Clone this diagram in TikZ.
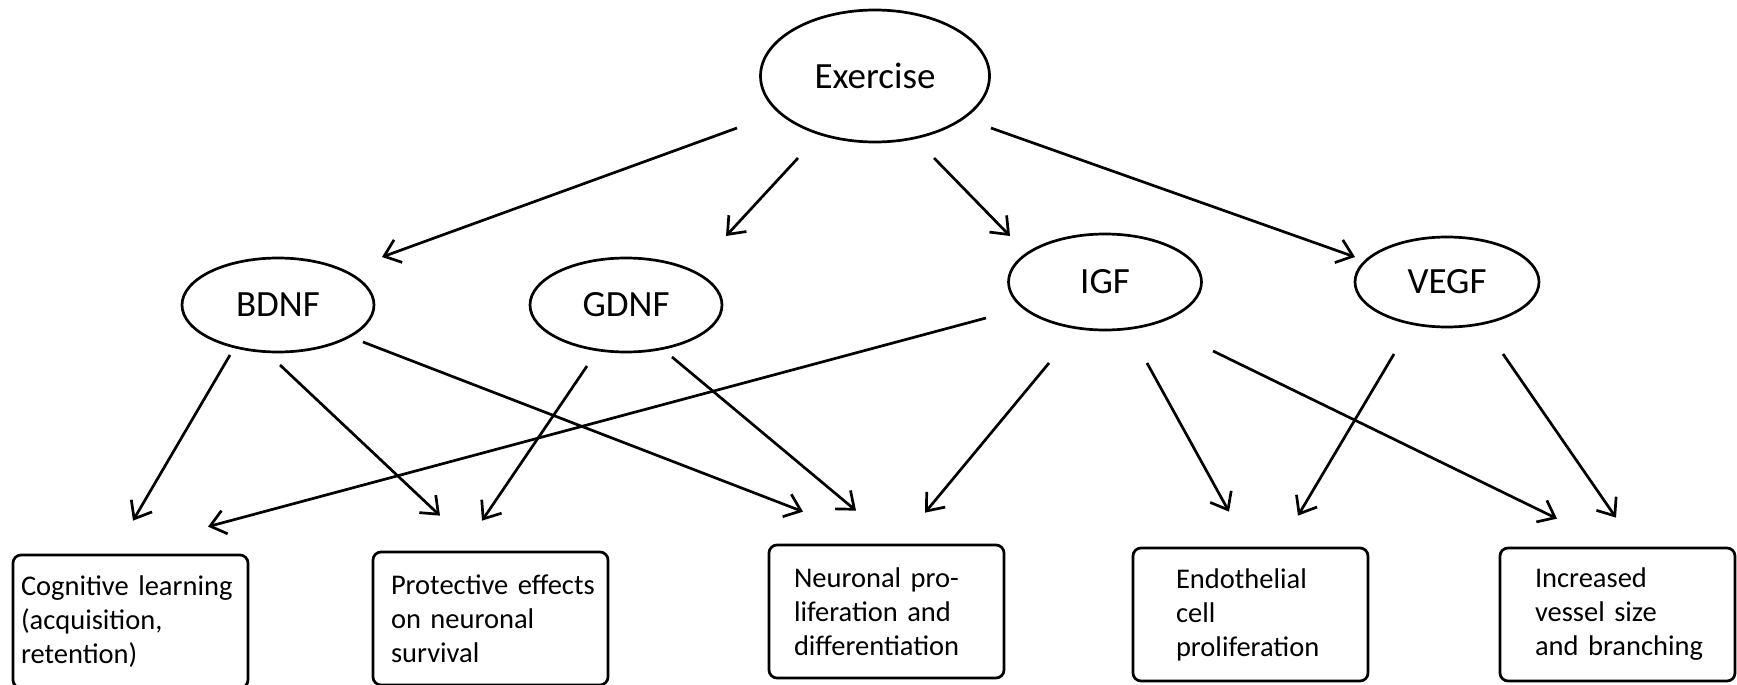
\documentclass[tikz,border=0pt]{standalone}
\usepackage{fontspec}
\setmainfont{Carlito}
\usetikzlibrary{arrows.meta, shapes.geometric}

\tikzset{
  factor/.style={ellipse, draw, line width=2.7pt, inner sep=0pt, font=\fontsize{37}{44}\selectfont},
  effect/.style={rectangle, rounded corners=8pt, draw, line width=2.7pt, inner sep=0pt,
                 minimum width=235pt, minimum height=133pt, text width=235pt, align=left,
                 font=\fontsize{28.5}{34}\selectfont,
                 execute at begin node={\leftskip=#1\hyphenpenalty=10000}},
  arr/.style={-{Straight Barb[length=15pt,width=24pt]}, line width=2.7pt}
}

\begin{document}
\begin{tikzpicture}[x=1pt,y=-1pt]
\useasboundingbox (0,0) rectangle (1737,685);
%---------------------------------------------------
\node[factor, minimum width=229pt, minimum height=132pt] (ex) at (875,76) {Exercise};
\node[factor, minimum width=192pt, minimum height=94pt] (bdnf) at (278,305) {BDNF};
\node[factor, minimum width=192pt, minimum height=94pt] (gdnf) at (626,305) {GDNF};
\node[factor, minimum width=193pt, minimum height=96pt] (igf) at (1105,282) {IGF};
\node[factor, minimum width=184pt, minimum height=90pt] (vegf) at (1447,282) {VEGF};
%---------------------------------------------------
\node[effect=8pt] (cog) at (130.5,621.5) {Cognitive learning\\(acquisition,\\retention)};
\node[effect=18pt] (prot) at (490.5,618.5) {Protective effects\\on neuronal\\survival};
\node[effect=25pt] (neur) at (886.5,611.5) {Neuronal pro-\\liferation and\\differentiation};
\node[effect=43pt] (endo) at (1250.5,614.5) {Endothelial\\cell\\proliferation};
\node[effect=35pt] (vess) at (1617.5,614.5) {Increased\\vessel size\\and branching};
%---------------------------------------------------
\draw[arr] ([shift={(-138,52)}]ex.center) -- ([shift={(104,-48)}]bdnf.center);
\draw[arr] ([shift={(-77,82)}]ex.center) -- ([shift={(100,-69)}]gdnf.center);
\draw[arr] ([shift={(59,82)}]ex.center) -- ([shift={(-95,-46)}]igf.center);
\draw[arr] ([shift={(116,52)}]ex.center) -- ([shift={(-92,-25)}]vegf.center);
%---------------------------------------------------
\draw[arr] ([shift={(-48,50)}]bdnf.center) -- ([shift={(2.5,-33)}]cog.north);
\draw[arr] ([shift={(2,60)}]bdnf.center) -- ([shift={(-50.5,-35)}]prot.north);
\draw[arr] ([shift={(85,37)}]bdnf.center) -- ([shift={(-83.5,-32)}]neur.north);
\draw[arr] ([shift={(-39,61)}]gdnf.center) -- ([shift={(-8.5,-30)}]prot.north);
\draw[arr] ([shift={(46,52)}]gdnf.center) -- ([shift={(-30.5,-33)}]neur.north);
%---------------------------------------------------
\draw[arr] ([shift={(-119,36)}]igf.center) -- ([shift={(77.5,-27)}]cog.north);
\draw[arr] ([shift={(-56,81)}]igf.center) -- ([shift={(38.5,-31)}]neur.north);
\draw[arr] ([shift={(42,81)}]igf.center) -- ([shift={(-21.5,-35)}]endo.north);
\draw[arr] ([shift={(108,69)}]igf.center) -- ([shift={(-60.5,-28)}]vess.north);
\draw[arr] ([shift={(-53,72)}]vegf.center) -- ([shift={(47.5,-31)}]endo.north);
\draw[arr] ([shift={(56,72)}]vegf.center) -- ([shift={(-1.5,-29)}]vess.north);
\end{tikzpicture}
\end{document}
